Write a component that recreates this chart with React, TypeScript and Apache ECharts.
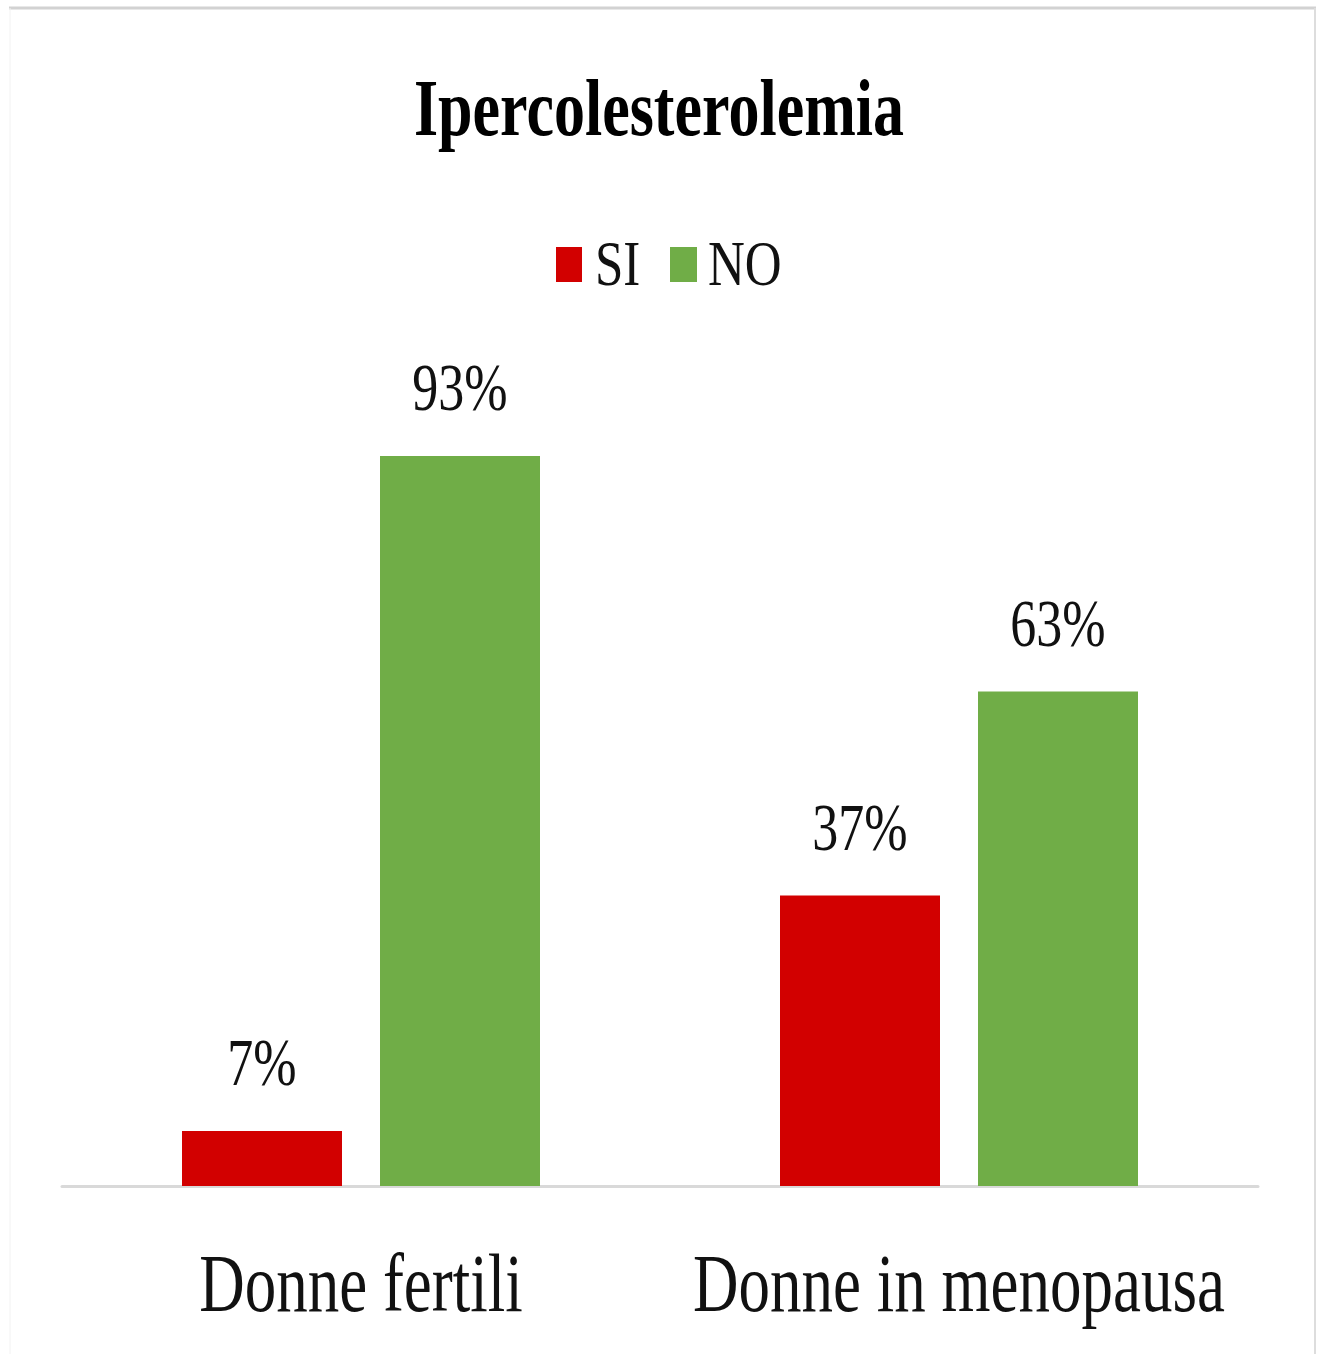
import React, { useEffect, useRef } from "react";
import * as echarts from "echarts";

const titleText = "Ipercolesterolemia";
const categories = ["Donne fertili", "Donne in menopausa"];
const seriesNames = ["SI", "NO"];
const siValues = [7, 37];
const noValues = [93, 63];
const seriesColors = ["#D20000", "#70AD47"];

const FONT = '"Liberation Serif", "Times New Roman", serif';
const BAR_WIDTH = 160;
const BAR_GAP_PX = 38;
const HALF_STEP = (BAR_WIDTH + BAR_GAP_PX) / 2;

function valueLabelSeries(values: number[], offset: number) {
  return {
    type: "custom",
    clip: false,
    silent: true,
    z: 5,
    data: values.map((v, i) => [i, v]),
    renderItem: (params: any, api: any) => {
      const c = api.coord([api.value(0), api.value(1)]);
      return {
        type: "text",
        x: c[0] + offset,
        y: c[1] - 68,
        scaleY: 1.29,
        style: {
          text: `${api.value(1)}%`,
          font: `52px ${FONT}`,
          fill: "#111",
          align: "center",
          verticalAlign: "middle",
        },
      };
    },
  };
}

export default function App() {
  const ref = useRef<HTMLDivElement>(null);
  useEffect(() => {
    if (!ref.current) return;
    const chart = echarts.init(ref.current, undefined, { renderer: "svg" });
    chart.setOption({
      animation: false,
      backgroundColor: "#ffffff",
      grid: { left: 62, right: 64, top: 401, bottom: 168 },
      xAxis: {
        type: "category",
        data: categories,
        axisLine: { show: true, lineStyle: { color: "#D9D9D9", width: 3 } },
        axisTick: { show: false },
        axisLabel: { show: false },
      },
      yAxis: {
        type: "value",
        min: 0,
        max: 100,
        show: false,
        splitLine: { show: false },
      },
      series: [
        {
          name: seriesNames[0],
          type: "bar",
          data: siValues,
          barWidth: BAR_WIDTH,
          barGap: `${(BAR_GAP_PX / BAR_WIDTH) * 100}%`,
          itemStyle: { color: seriesColors[0] },
        },
        {
          name: seriesNames[1],
          type: "bar",
          data: noValues,
          barWidth: BAR_WIDTH,
          barGap: `${(BAR_GAP_PX / BAR_WIDTH) * 100}%`,
          itemStyle: { color: seriesColors[1] },
        },
        valueLabelSeries(siValues, -HALF_STEP),
        valueLabelSeries(noValues, HALF_STEP),
        {
          type: "custom",
          clip: false,
          silent: true,
          data: categories.map((_, i) => [i, 0]),
          renderItem: (params: any, api: any) => {
            const c = api.coord([api.value(0), api.value(1)]);
            return {
              type: "text",
              x: c[0],
              y: c[1] + 97,
              scaleY: 1.32,
              style: {
                text: categories[params.dataIndex],
                font: `63px ${FONT}`,
                fill: "#111",
                align: "center",
                verticalAlign: "middle",
              },
            };
          },
        },
      ],
      graphic: [
        { type: "line", shape: { x1: 9, y1: 8, x2: 1316, y2: 8 }, style: { stroke: "#D2D2D2", lineWidth: 3 } },
        { type: "line", shape: { x1: 1315, y1: 8, x2: 1315, y2: 1354 }, style: { stroke: "#DDDDDD", lineWidth: 2 } },
        { type: "line", shape: { x1: 10, y1: 8, x2: 10, y2: 1354 }, style: { stroke: "#F2F2F2", lineWidth: 1 } },
        {
          type: "text",
          x: 659,
          y: 108.5,
          scaleY: 1.3,
          style: {
            text: titleText,
            font: `bold 62px ${FONT}`,
            fill: "#000",
            align: "center",
            verticalAlign: "middle",
          },
        },
        { type: "rect", shape: { x: 556, y: 247, width: 26, height: 35 }, style: { fill: seriesColors[0] } },
        {
          type: "text",
          x: 595,
          y: 263.5,
          scaleY: 1.25,
          style: { text: seriesNames[0], font: `51px ${FONT}`, fill: "#111", align: "left", verticalAlign: "middle" },
        },
        { type: "rect", shape: { x: 670, y: 247, width: 27, height: 35 }, style: { fill: seriesColors[1] } },
        {
          type: "text",
          x: 708,
          y: 263.5,
          scaleY: 1.25,
          style: { text: seriesNames[1], font: `51px ${FONT}`, fill: "#111", align: "left", verticalAlign: "middle" },
        },
      ],
    });
    return () => chart.dispose();
  }, []);
  return (
    <div
      ref={ref}
      style={{ position: "absolute", left: 0, top: 0, width: 1322, height: 1354 }}
    />
  );
}
